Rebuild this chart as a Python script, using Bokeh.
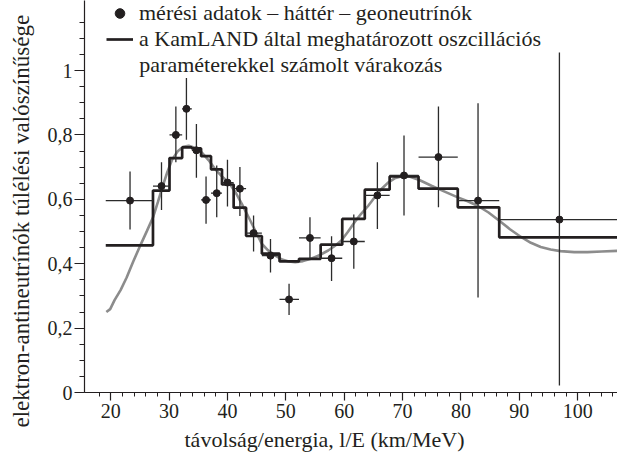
import numpy as np
from bokeh.plotting import figure
from bokeh.models import Range1d, FixedTicker, Legend, LegendItem, Label, Title
from bokeh.embed import file_html
from bokeh.resources import INLINE

# ---------------- data ----------------
# bin edges of the L/E bins (km/MeV)
bin_edges = [19.15, 27.24, 30.07, 32.24, 33.90, 35.48, 37.18, 39.06, 41.06, 43.19,
             45.89, 48.92, 52.25, 55.96, 59.66, 63.52, 67.78, 72.73, 79.45, 86.55, 110.0]
# expectation with the KamLAND oscillation parameters (histogram, one value per bin)
expected_step = [0.457, 0.627, 0.728, 0.761, 0.758, 0.734, 0.693, 0.646, 0.574, 0.486,
                 0.431, 0.407, 0.415, 0.459, 0.539, 0.630, 0.671, 0.633, 0.575, 0.482]
# measured data - background - geoneutrinos
point_x = [23.31, 28.70, 31.16, 32.97, 34.68, 36.33, 38.16, 40.00, 42.13, 44.47,
           47.37, 50.55, 54.13, 57.83, 61.64, 65.68, 70.24, 76.14, 82.92, 96.86]
point_y = [0.596, 0.641, 0.800, 0.881, 0.752, 0.598, 0.619, 0.652, 0.633, 0.495,
           0.425, 0.289, 0.480, 0.417, 0.469, 0.612, 0.674, 0.731, 0.596, 0.537]
point_y_lo = [0.506, 0.567, 0.715, 0.785, 0.667, 0.524, 0.544, 0.578, 0.548, 0.438,
              0.373, 0.241, 0.415, 0.346, 0.384, 0.508, 0.550, 0.575, 0.295, 0.022]
point_y_hi = [0.686, 0.715, 0.888, 0.977, 0.834, 0.671, 0.705, 0.723, 0.700, 0.550,
              0.477, 0.338, 0.544, 0.485, 0.553, 0.715, 0.798, 0.888, 0.898, 1.056]
# smooth oscillation curve (grey)
curve_x = [19.25, 19.91, 20.66, 21.69, 22.73, 23.86, 25.08, 26.21, 27.25, 28.09,
           28.84, 29.69, 30.54, 31.48, 32.42, 33.36, 34.49, 35.62, 36.75, 37.88,
           39.00, 40.23, 41.36, 42.48, 43.33, 44.18, 45.02, 45.87, 46.91, 48.13,
           49.35, 50.48, 51.61, 52.93, 54.43, 55.84, 57.25, 58.38, 59.51, 60.64,
           61.77, 62.90, 64.12, 65.25, 66.38, 67.51, 68.64, 69.77, 70.90, 72.87,
           74.94, 77.20, 79.46, 81.15, 82.84, 84.72, 86.51, 88.39, 90.28, 91.97,
           93.66, 95.35, 97.05, 99.40, 101.66, 104.10, 106.83]
curve_y = [0.250, 0.259, 0.287, 0.318, 0.357, 0.407, 0.457, 0.502, 0.544, 0.592,
           0.637, 0.684, 0.724, 0.749, 0.763, 0.766, 0.759, 0.745, 0.722, 0.694,
           0.672, 0.652, 0.622, 0.585, 0.555, 0.524, 0.493, 0.462, 0.442, 0.426,
           0.413, 0.407, 0.405, 0.408, 0.416, 0.427, 0.441, 0.455, 0.472, 0.499,
           0.529, 0.555, 0.580, 0.607, 0.632, 0.652, 0.665, 0.671, 0.672, 0.660,
           0.642, 0.624, 0.606, 0.594, 0.580, 0.559, 0.534, 0.507, 0.483, 0.465,
           0.452, 0.444, 0.439, 0.436, 0.436, 0.438, 0.440]

x_major_ticks = [20, 30, 40, 50, 60, 70, 80, 90, 100]
x_minor_ticks = list(range(18, 107, 2))
y_major_ticks = [0, 0.2, 0.4, 0.6, 0.8, 1.0]
y_tick_labels = ["0", "0,2", "0,4", "0,6", "0,8", "1"]
y_minor_ticks = [round(0.05 * i, 2) for i in range(0, 24)]

legend_labels = ["mérési adatok – háttér – geoneutrínók",
                 "a KamLAND által meghatározott oszcillációs",
                 "paraméterekkel számolt várakozás"]
x_title = "távolság/energia, l/E (km/MeV)"
y_title = "elektron-antineutrínók túlélési valószínűsége"

# ---------------- styling ----------------
FONT = "Liberation Serif"
INK = "#231f20"

p = figure(width=617, height=460, output_backend="svg", toolbar_location=None,
           x_range=Range1d(15.51, 106.81), y_range=Range1d(0, 1.2174),
           min_border_left=82, min_border_right=0, min_border_top=0,
           min_border_bottom=68)
p.outline_line_color = None
p.grid.visible = False
p.background_fill_color = "white"
p.border_fill_color = "white"

curve_r = p.line(curve_x, curve_y, line_color="#8c8c8c", line_width=2.6)
step_y = expected_step + [expected_step[-1]]
step_r = p.step(bin_edges, step_y, mode="after", line_color=INK, line_width=2.7)

x_lo = bin_edges[:-1]
x_hi = bin_edges[1:]
p.segment(x0=point_x, y0=point_y_lo, x1=point_x, y1=point_y_hi,
          line_color="#2b2b2b", line_width=1.3)
p.segment(x0=x_lo, y0=point_y, x1=x_hi, y1=point_y,
          line_color="#2b2b2b", line_width=1.3)
pts_r = p.scatter(point_x, point_y, size=7, color=INK)

xa = p.xaxis[0]
ya = p.yaxis[0]
xa.ticker = FixedTicker(ticks=x_major_ticks, minor_ticks=x_minor_ticks)
ya.ticker = FixedTicker(ticks=y_major_ticks, minor_ticks=y_minor_ticks)
ya.major_label_overrides = dict(zip(y_major_ticks, y_tick_labels))

for ax in (xa, ya):
    ax.axis_line_color = INK
    ax.axis_line_width = 1.2
    ax.major_tick_line_color = INK
    ax.minor_tick_line_color = INK
    ax.major_tick_line_width = 1.2
    ax.minor_tick_line_width = 1.0
    ax.major_tick_in = 0
    ax.minor_tick_in = 0
    ax.major_label_text_font = FONT
    ax.major_label_text_font_size = "20px"
    ax.major_label_text_color = INK

xa.major_tick_out = 8
xa.minor_tick_out = 4
xa.major_label_standoff = 3
ya.major_tick_out = 10
ya.minor_tick_out = 5
ya.major_label_standoff = 2

# axis titles, placed along the axes where the reference has them
p.add_layout(Title(text=x_title, align="left", offset=100, standoff=8,
                   vertical_align="bottom", text_font=FONT, text_font_size="22px",
                   text_font_style="normal", text_color=INK), "below")
p.add_layout(Title(text=y_title, align="left", offset=-35, standoff=17,
                   vertical_align="top", text_font=FONT, text_font_size="23px",
                   text_font_style="normal", text_color=INK), "left")

legend = Legend(items=[LegendItem(label=legend_labels[0], renderers=[pts_r]),
                       LegendItem(label=legend_labels[1], renderers=[step_r])],
                location=(22, 340), orientation="vertical", padding=0, margin=0,
                spacing=0, glyph_width=27, glyph_height=24, label_height=24,
                label_standoff=6, label_text_font=FONT, label_text_font_size="22px",
                label_text_color=INK, border_line_alpha=0, background_fill_alpha=0)
p.add_layout(legend)
p.add_layout(Label(x=24.90, y=1.018, text=legend_labels[2], text_font=FONT,
                   text_font_size="22px", text_color=INK, text_baseline="middle",
                   text_align="left"))

open("out.html", "w").write(file_html(p, INLINE))
